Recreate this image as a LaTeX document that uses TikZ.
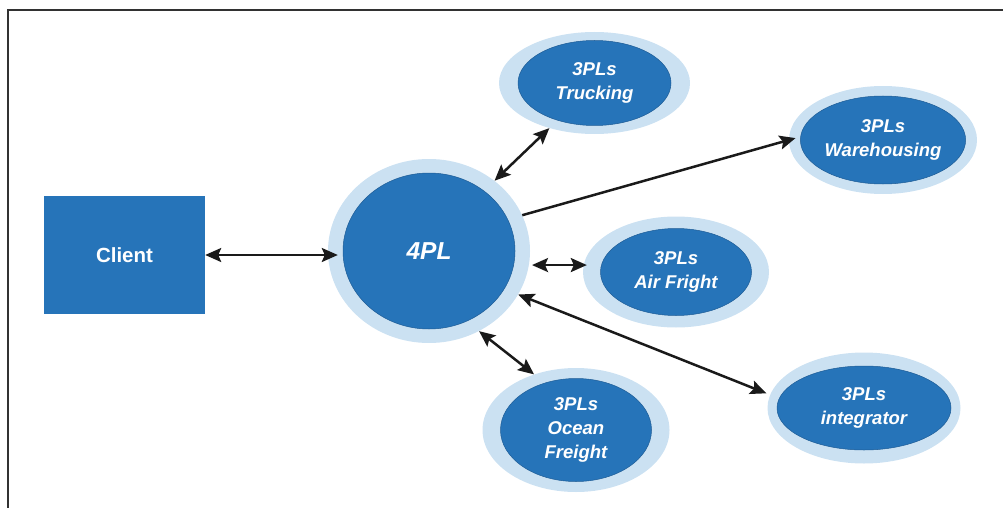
\documentclass[tikz,border=0pt]{standalone}
\usepackage{fontspec}
\setmainfont{Liberation Sans}
\usetikzlibrary{shapes.geometric,arrows.meta}

\definecolor{coreblue}{RGB}{38,116,185}
\definecolor{edgeblue}{RGB}{30,92,150}
\definecolor{ringblue}{RGB}{203,225,242}
\definecolor{linkgray}{RGB}{26,26,26}
\definecolor{framegray}{RGB}{50,50,50}

\tikzset{
  ring/.style={ellipse, fill=ringblue, inner sep=0pt},
  core/.style={ellipse, fill=coreblue, draw=edgeblue, line width=0.5pt,
    inner sep=0pt, text=white, align=center,
    font=\fontsize{18.5}{24}\selectfont\bfseries\itshape},
  clientbox/.style={rectangle, fill=coreblue, inner sep=0pt, text=white,
    font=\fontsize{20.5}{24}\selectfont\bfseries},
  link/.style={draw=linkgray, line width=2.5pt,
    {Stealth[length=16pt,width=14pt,inset=3pt]}-{Stealth[length=16pt,width=14pt,inset=3pt]}},
  onelink/.style={draw=linkgray, line width=2.5pt,
    -{Stealth[length=16pt,width=14pt,inset=3pt]}},
  frameline/.style={draw=framegray, line width=2pt}
}

\begin{document}
\begin{tikzpicture}[x=1pt,y=-1pt]
  \useasboundingbox (0,0) rectangle (1003,508);

  % partial frame: left and top edges
  \coordinate (fbl) at (7.5,509);
  \coordinate (ftl) at (7.5,10);
  \coordinate (ftr) at (1004,10);
  \draw[frameline] (fbl) -- (ftl) -- (ftr);

  % client
  \node[clientbox, minimum width=161pt, minimum height=118pt] (client) at (124.5,255) {Client};

  % 4PL hub
  \node[ring, minimum width=202pt, minimum height=184pt] (hub) at (429,251) {};
  \node[core, minimum width=172pt, minimum height=156pt,
        font=\fontsize{24.5}{28}\selectfont\bfseries\itshape] (hubcore) at (429,251) {4PL};

  % 3PL providers
  \node[ring, minimum width=191pt, minimum height=102pt] (truck) at (594.5,83) {};
  \node[core, minimum width=153pt, minimum height=85pt] (truckcore) at (594.5,83) {3PLs\\Trucking};

  \node[ring, minimum width=188pt, minimum height=108pt] (ware) at (883,140) {};
  \node[core, minimum width=152pt, minimum height=88pt] (warecore) at (883,140) {3PLs\\Warehousing};

  \node[ring, minimum width=186pt, minimum height=111pt] (air) at (676,272) {};
  \node[core, minimum width=151pt, minimum height=87pt] (aircore) at (676,272) {3PLs\\Air Fright};

  \node[ring, minimum width=187pt, minimum height=124pt] (ocean) at (576,430) {};
  \node[core, minimum width=151pt, minimum height=103pt] (oceancore) at (576,430) {3PLs\\Ocean\\Freight};

  \node[ring, minimum width=193pt, minimum height=111pt] (integ) at (864,408) {};
  \node[core, minimum width=174pt, minimum height=84pt] (integcore) at (864,408) {3PLs\\integrator};

  % connectors
  \draw[link, shorten >=-10pt] (client.east) -- (client.east -| hub.west);
  \draw[link] (hub.47) -- (truck.225);
  \draw[onelink, shorten >=-7pt] (hub.21) -- (ware.west);
  \draw[link, shorten <=3pt, shorten >=-4pt] (hub.-8) -- (air.west |- hub.-8);
  \draw[link, shorten >=4pt] (hub.-26) -- (integ.172);
  \draw[link] (hub.-58) -- (ocean.127);
\end{tikzpicture}
\end{document}
